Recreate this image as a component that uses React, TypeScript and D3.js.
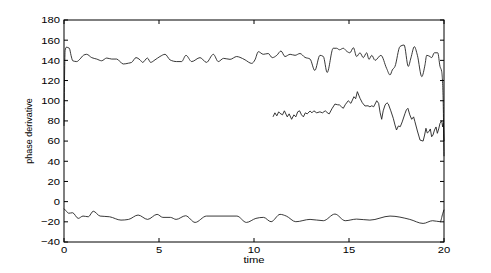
import React from 'react'
import * as d3 from 'd3'

const width = 491
const height = 273
const margin = { left: 64, top: 20, right: 47, bottom: 31 }

const xTicks = [0, 5, 10, 15, 20]
const yTicks = [-40, -20, 0, 20, 40, 60, 80, 100, 120, 140, 160, 180]
const xLabel = 'time'
const yLabel = 'phase derivative'

// upper branch, ~140
const upperTime = [0, 0.06, 0.12, 0.28, 0.37, 0.46, 0.67, 0.84, 1.02, 1.19, 1.46, 1.72, 1.98, 2.25, 2.51, 2.77, 3.12, 3.39, 3.56, 3.79, 4.0, 4.14, 4.39, 4.56, 4.79, 5.05, 5.32, 5.58, 5.93, 6.19, 6.42, 6.72, 7.16, 7.5, 7.86, 8.12, 8.4, 8.74, 9.09, 9.26, 9.53, 9.88, 10.05, 10.23, 10.49, 10.75, 10.96, 11.2, 11.42, 11.63, 11.9, 12.16, 12.42, 12.68, 12.95, 13.2, 13.47, 13.65, 13.85, 14.17, 14.35, 14.5, 14.7, 14.88, 15.05, 15.23, 15.4, 15.58, 15.75, 15.93, 16.05, 16.2, 16.37, 16.68, 16.98, 17.16, 17.28, 17.42, 17.68, 17.9, 18.12, 18.26, 18.44, 18.6, 18.83, 19.0, 19.09, 19.26, 19.35, 19.49, 19.67, 19.79, 19.88, 19.95, 20]
const upperValue = [75, 150, 153, 152, 145, 139.6, 138.8, 141.3, 145, 146, 142.7, 141.3, 139.6, 142.3, 141.3, 141.3, 136.4, 137.2, 138, 142.7, 140.5, 138, 142.3, 138, 140.5, 143.8, 146, 140.5, 138.8, 138.8, 145, 138.8, 142.7, 138, 146, 138.8, 142, 141, 143.8, 143, 140.5, 137, 140.5, 148.6, 146, 146.8, 142.7, 145, 149.3, 143.8, 146, 145, 146.8, 143, 141.3, 130, 145, 143.8, 128, 152, 152, 150.5, 152, 149, 147.5, 152.6, 143.8, 147.5, 142.7, 147.5, 141, 145, 140, 145, 132, 125.5, 130.5, 134, 153.6, 155.2, 134, 142.5, 153.6, 145, 123.9, 135.6, 145, 143.8, 142.7, 147.5, 147.5, 134, 128.8, 105, 45]

// middle branch, appears at t = 11
const middleTime = [11.0, 11.1, 11.2, 11.3, 11.37, 11.5, 11.6, 11.75, 11.85, 11.98, 12.1, 12.2, 12.3, 12.4, 12.5, 12.6, 12.7, 12.8, 12.95, 13.05, 13.15, 13.3, 13.47, 13.6, 13.75, 13.9, 13.96, 14.1, 14.26, 14.4, 14.5, 14.6, 14.7, 14.8, 14.96, 15.1, 15.26, 15.35, 15.44, 15.58, 15.7, 15.84, 16.0, 16.1, 16.2, 16.3, 16.46, 16.56, 16.64, 16.72, 16.8, 16.9, 17.0, 17.07, 17.2, 17.33, 17.42, 17.5, 17.6, 17.7, 17.8, 17.95, 18.02, 18.1, 18.2, 18.3, 18.4, 18.47, 18.6, 18.74, 18.9, 18.98, 19.05, 19.12, 19.2, 19.28, 19.35, 19.42, 19.5, 19.58, 19.65, 19.72, 19.79, 19.88, 19.93, 19.97, 20]
const middleValue = [84, 88, 85, 89, 87.5, 86, 90, 84, 87, 81.6, 86, 84, 89, 90, 86, 84, 88, 87, 89.8, 88, 90, 88, 89, 88, 90, 87.5, 87, 92, 96.7, 96, 95.8, 94, 92.5, 96, 100, 97.4, 104, 102, 109, 102.4, 98, 94.8, 95, 94, 95, 94, 100, 97.4, 88, 81.6, 90, 95.8, 98, 96.7, 90, 82.6, 76, 71, 75, 74.3, 79, 87.5, 91, 92.5, 86, 81.6, 84, 79.2, 70, 61, 60, 66, 72.7, 68, 69.3, 72, 64.3, 66, 71, 74, 67.7, 72, 77.6, 80.2, 74, 78, 60]

// lower branch, ~-15
const lowerTime = [0, 0.1, 0.25, 0.45, 0.75, 1.0, 1.28, 1.54, 1.9, 2.4, 3.0, 3.4, 3.9, 4.4, 4.9, 5.2, 5.6, 5.9, 6.4, 6.9, 7.5, 9.1, 9.6, 10.1, 10.5, 10.9, 11.37, 11.7, 12.2, 12.95, 13.65, 14.26, 14.8, 15.4, 16.1, 17.16, 18.2, 18.9, 19.4, 19.8, 19.93, 20]
const lowerValue = [-7, -9, -11.5, -11, -16.6, -14.3, -15, -9.5, -14.3, -15, -18.3, -17.6, -13.3, -17.6, -12.6, -15.6, -15.6, -17.6, -14, -20.6, -14.3, -14.3, -20.6, -16.6, -15.6, -19.9, -12.6, -14.3, -19.9, -17.6, -18.9, -12.3, -18.9, -17.3, -18.3, -14.3, -17.6, -21.6, -18.9, -19.9, -12, -8]

const font = '"Liberation Sans", Arial, Helvetica, sans-serif'

function App() {
  const x = d3.scaleLinear().domain([0, 20]).range([margin.left, width - margin.right])
  const y = d3.scaleLinear().domain([-40, 180]).range([height - margin.bottom, margin.top])
  const fmt = y.tickFormat()

  const smooth = d3.line<[number, number]>()
    .x(d => x(d[0]))
    .y(d => y(d[1]))
    .curve(d3.curveMonotoneX)
  const jagged = d3.line<[number, number]>()
    .x(d => x(d[0]))
    .y(d => y(d[1]))

  const upper = upperTime.map((t, i) => [t, upperValue[i]] as [number, number])
  const middle = middleTime.map((t, i) => [t, middleValue[i]] as [number, number])
  const lower = lowerTime.map((t, i) => [t, lowerValue[i]] as [number, number])

  const [x0, x1] = x.range()
  const [y0, y1] = y.range()
  const tick = 4

  return (
    <svg width={width} height={height} style={{ position: 'absolute', left: 0, top: 0, background: '#fff' }}>
      <g fill="none" stroke="#222" strokeWidth={0.9}>
        <path d={smooth(upper) || ''} />
        <path d={jagged(middle) || ''} />
        <path d={smooth(lower) || ''} />
      </g>

      <g stroke="#000" strokeWidth={1}>
        <rect x={x0} y={y1} width={x1 - x0} height={y0 - y1} fill="none" />
        {xTicks.map(t => (
          <g key={'xt' + t}>
            <line x1={x(t)} x2={x(t)} y1={y0} y2={y0 - tick} />
            <line x1={x(t)} x2={x(t)} y1={y1} y2={y1 + tick} />
          </g>
        ))}
        {yTicks.map(t => (
          <g key={'yt' + t}>
            <line x1={x0} x2={x0 + tick} y1={y(t)} y2={y(t)} />
            <line x1={x1} x2={x1 - tick} y1={y(t)} y2={y(t)} />
          </g>
        ))}
      </g>

      <g fontFamily={font} fontSize={9.5} fill="#000">
        {xTicks.map(t => (
          <g key={'xl' + t} transform={`translate(${x(t)},${y0 + 10.7}) scale(1.18,1)`}>
            <text textAnchor="middle">{t}</text>
          </g>
        ))}
        {yTicks.map(t => (
          <g key={'yl' + t} transform={`translate(${x0 - 4},${y(t)}) scale(1.18,1)`}>
            <text textAnchor="end" dy="0.35em">{fmt(t)}</text>
          </g>
        ))}
        <g transform={`translate(${(x0 + x1) / 2},${y0 + 20.7}) scale(1.18,1)`}>
          <text textAnchor="middle">{xLabel}</text>
        </g>
        <text
          transform={`translate(31.5,${(y0 + y1) / 2}) rotate(-90)`}
          textAnchor="middle"
          fontSize={9}
        >
          {yLabel}
        </text>
      </g>
    </svg>
  )
}

export default App
